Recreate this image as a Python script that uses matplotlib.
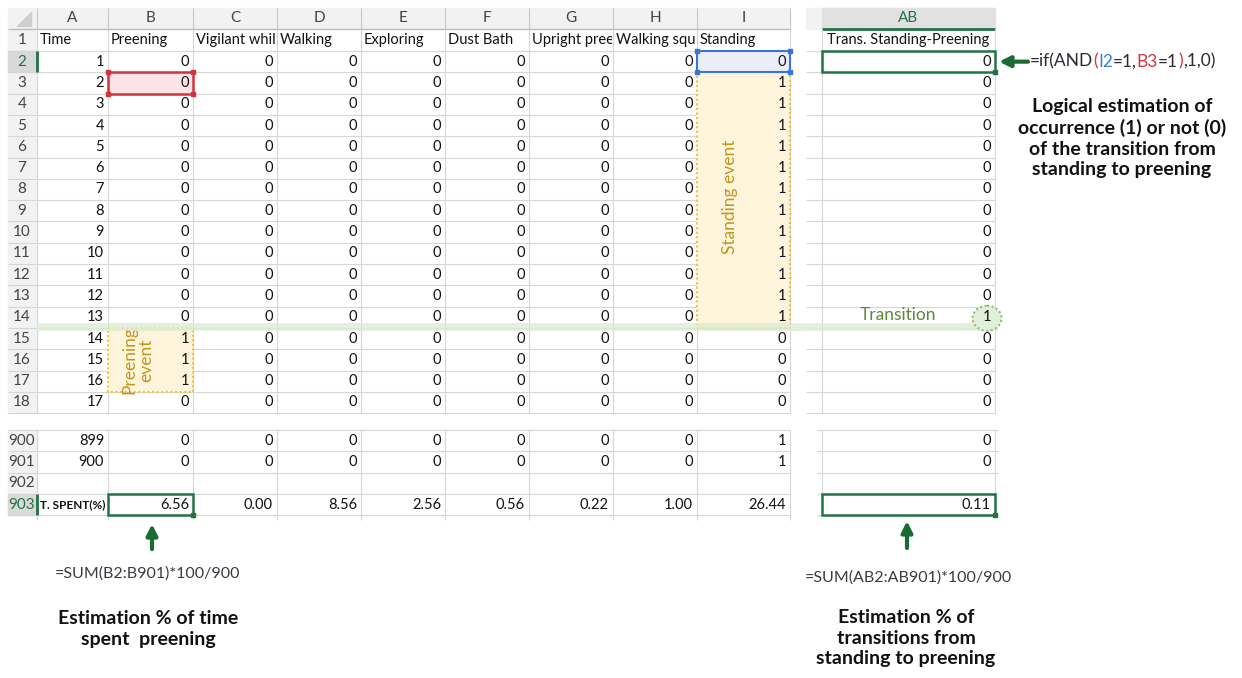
"""
Spreadsheet view: estimating time spent preening and standing->preening transitions.
"""

import matplotlib.pyplot as plt
from matplotlib.patches import Rectangle, Ellipse, Polygon
from matplotlib.transforms import Bbox

plt.rcParams['font.family'] = ['Lato', 'DejaVu Sans']

# ---- data -------------------------------------------------------------
col_letters = ["A", "B", "C", "D", "E", "F", "G", "H", "I"]
col_titles = ["Time", "Preening", "Vigilant whil", "Walking", "Exploring",
              "Dust Bath", "Upright pree", "Walking squa", "Standing"]

sheet_rows = [2, 3, 4, 5, 6, 7, 8, 9, 10, 11, 12, 13, 14, 15, 16, 17, 18, 900, 901]
time_s = [1, 2, 3, 4, 5, 6, 7, 8, 9, 10, 11, 12, 13, 14, 15, 16, 17, 899, 900]
preening = [0, 0, 0, 0, 0, 0, 0, 0, 0, 0, 0, 0, 0, 1, 1, 1, 0, 0, 0]
vigilant = [0, 0, 0, 0, 0, 0, 0, 0, 0, 0, 0, 0, 0, 0, 0, 0, 0, 0, 0]
walking = [0, 0, 0, 0, 0, 0, 0, 0, 0, 0, 0, 0, 0, 0, 0, 0, 0, 0, 0]
exploring = [0, 0, 0, 0, 0, 0, 0, 0, 0, 0, 0, 0, 0, 0, 0, 0, 0, 0, 0]
dust_bath = [0, 0, 0, 0, 0, 0, 0, 0, 0, 0, 0, 0, 0, 0, 0, 0, 0, 0, 0]
upright_preen = [0, 0, 0, 0, 0, 0, 0, 0, 0, 0, 0, 0, 0, 0, 0, 0, 0, 0, 0]
walking_squat = [0, 0, 0, 0, 0, 0, 0, 0, 0, 0, 0, 0, 0, 0, 0, 0, 0, 0, 0]
standing = [0, 1, 1, 1, 1, 1, 1, 1, 1, 1, 1, 1, 1, 0, 0, 0, 0, 1, 1]
trans_stand_preen = [0, 0, 0, 0, 0, 0, 0, 0, 0, 0, 0, 0, 1, 0, 0, 0, 0, 0, 0]

pct_spent = [6.56, 0.00, 8.56, 2.56, 0.56, 0.22, 1.00, 26.44]
pct_trans = 0.11

# ---- layout (pixels) --------------------------------------------------
W, H = 1242, 678
col_edges = [37, 108, 193, 277, 361, 445, 529, 613, 697, 790]
rn_left = 8
ab_left, ab_right = 822, 995
rh = 21.3

GRID = "#d6d6d6"
HDR_BG = "#f2f2f2"
HDR_TXT = "#444444"
GREEN = "#217346"
ARROW_GREEN = "#1b6b33"
YELLOW_FILL = "#fff5dd"
YELLOW_EDGE = "#f4c13e"
EVENT_TXT = "#c4951c"
CELL_FS = 10.5
NOTE_FS = 14


def row_top(r):
    if r == 0:
        return 8
    if r == 1:
        return 29
    if r <= 18:
        return 51 + (r - 2) * rh
    return 430 + (r - 900) * rh


def row_mid(r):
    if r == 0:
        return 18.5
    if r == 1:
        return 40
    return row_top(r) + rh / 2


fig = plt.figure(figsize=(W / 100, H / 100), dpi=100)
ax = fig.add_axes([0, 0, 1, 1])
ax.set_xlim(0, W)
ax.set_ylim(H, 0)
ax.axis("off")


def hline(x0, x1, y, color=GRID, lw=0.8, z=1):
    ax.plot([x0, x1], [y, y], color=color, lw=lw, zorder=z, solid_capstyle="butt")


def vline(x, y0, y1, color=GRID, lw=0.8, z=1):
    ax.plot([x, x], [y0, y1], color=color, lw=lw, zorder=z, solid_capstyle="butt")


def handles(x0, y0, x1, y1, color, corners):
    s = 4
    pts = {"tl": (x0, y0), "tr": (x1, y0), "bl": (x0, y1), "br": (x1, y1)}
    for c in corners:
        px, py = pts[c]
        ax.add_patch(Rectangle((px - s / 2, py - s / 2), s, s, color=color, zorder=8))


def display_box(x0, y0, x1, y1):
    (a, b), (c, d) = ax.transData.transform([(x0, y0), (x1, y1)])
    return Bbox.from_extents(min(a, c), min(b, d), max(a, c), max(b, d))


# ---- left block: headers ----------------------------------------------
top_rows = sheet_rows[:17]
bot_rows = [900, 901, 902, 903]

ax.add_patch(Rectangle((rn_left, 8), col_edges[-1] - rn_left, 21, color=HDR_BG, zorder=0))
ax.add_patch(Polygon([(31, 12), (31, 26), (17, 26)], color="#cfcfcf", zorder=2))
hline(rn_left, col_edges[-1], 29, color="#bdbdbd", lw=1)
for i, letter in enumerate(col_letters):
    xc = (col_edges[i] + col_edges[i + 1]) / 2
    ax.text(xc, 18.5, letter, ha="center", va="center", fontsize=11, color=HDR_TXT, zorder=3)
    vline(col_edges[i + 1], 8, 29, color="#c8c8c8")
vline(col_edges[0], 8, 29, color="#c8c8c8")

# row number column backgrounds
for block in (top_rows + [1], bot_rows):
    y0 = row_top(min(block))
    y1 = row_top(max(block)) + (22 if max(block) == 1 else rh)
    ax.add_patch(Rectangle((rn_left, y0), col_edges[0] - rn_left, y1 - y0, color=HDR_BG, zorder=0))

for r in [1] + top_rows + bot_rows:
    active = r in (2, 903)
    if active:
        ax.add_patch(Rectangle((rn_left, row_top(r)), col_edges[0] - rn_left, rh,
                               color="#d9d9d9", zorder=1))
        vline(col_edges[0], row_top(r), row_top(r) + rh, color=GREEN, lw=2, z=4)
    ax.text(22, row_mid(r), str(r), ha="center", va="center", fontsize=11,
            color=GREEN if active else HDR_TXT, zorder=3)

# grid lines
y_top1, y_bot1 = 29, row_top(18) + rh
y_top2, y_bot2 = row_top(900), row_top(903) + rh
for y in [51] + [row_top(r) + rh for r in top_rows]:
    hline(rn_left, col_edges[-1], y)
for r in bot_rows:
    hline(rn_left, col_edges[-1], row_top(r))
hline(rn_left, col_edges[-1], y_bot2)
for x in col_edges:
    vline(x, y_top1, y_bot1)
    vline(x, y_top2, y_bot2 + 5)

# highlighted regions
ax.add_patch(Rectangle((col_edges[8], row_top(3)), col_edges[9] - col_edges[8],
                       row_top(15) - row_top(3), facecolor=YELLOW_FILL,
                       edgecolor=YELLOW_EDGE, lw=1.5, ls=(0, (1, 1.2)), zorder=2))
ax.text((col_edges[8] + col_edges[9]) / 2 - 14, (row_top(3) + row_top(15)) / 2 - 3,
        "Standing event", rotation=90, ha="center", va="center", fontsize=12.5,
        color=EVENT_TXT, zorder=3)

ax.add_patch(Rectangle((col_edges[1], row_top(15)), col_edges[2] - col_edges[1],
                       row_top(18) - row_top(15), facecolor=YELLOW_FILL,
                       edgecolor=YELLOW_EDGE, lw=1.5, ls=(0, (1, 1.2)), zorder=2))
ax.text(col_edges[1] + 30, (row_top(15) + row_top(18)) / 2, "Preening\nevent",
        rotation=90, ha="center", va="center", fontsize=12.5, color=EVENT_TXT,
        linespacing=1.1, zorder=3)

# B3 (red) and I2 (blue) selections
bx0, bx1 = col_edges[1], col_edges[2]
ax.add_patch(Rectangle((bx0, row_top(3)), bx1 - bx0, rh, facecolor="#fce4e6",
                       edgecolor="#d0343f", lw=1.8, zorder=6))
handles(bx0, row_top(3), bx1, row_top(3) + rh, "#d0343f", ["tl", "tr", "bl", "br"])
ix0, ix1 = col_edges[8], col_edges[9]
ax.add_patch(Rectangle((ix0, row_top(2)), ix1 - ix0, rh, facecolor="#e9eef9",
                       edgecolor="#3b74d4", lw=1.5, zorder=6))
handles(ix0, row_top(2), ix1, row_top(2) + rh, "#3b74d4", ["tl", "tr", "bl", "br"])

# row 14/15 transition band
ax.add_patch(Rectangle((col_edges[0], row_top(15) - 5), ab_right + 3 - col_edges[0], 8,
                       color="#dcebd2", alpha=0.75, zorder=5, lw=0))

# cell values
columns = [time_s, preening, vigilant, walking, exploring, dust_bath,
           upright_preen, walking_squat, standing]
for i, title in enumerate(col_titles):
    t = ax.text(col_edges[i] + 3, 40, title, ha="left", va="center",
                fontsize=CELL_FS, color="#111111", zorder=7)
    t.set_clip_box(display_box(col_edges[i], 29, col_edges[i + 1] - 1, 51))
    t.set_clip_on(True)
    for r, v in zip(sheet_rows, columns[i]):
        ax.text(col_edges[i + 1] - 4, row_mid(r), str(v), ha="right", va="center",
                fontsize=CELL_FS, color="#111111", zorder=7)

ax.text(col_edges[0] + 3, row_mid(903), "T. SPENT(%)", ha="left", va="center",
        fontsize=8.5, fontweight="bold", color="#111111", zorder=7)
for i, v in enumerate(pct_spent):
    ax.text(col_edges[i + 2] - 4, row_mid(903), f"{v:.2f}", ha="right", va="center",
            fontsize=CELL_FS, color="#111111", zorder=7)
ax.add_patch(Rectangle((bx0, row_top(903)), bx1 - bx0, rh, fill=False,
                       edgecolor=GREEN, lw=1.8, zorder=6))
handles(bx0, row_top(903), bx1, row_top(903) + rh, GREEN, ["br"])

# ---- right block (column AB) -------------------------------------------
ax.add_patch(Rectangle((806, 8), ab_right - 806, 21, color=HDR_BG, zorder=0))
ax.add_patch(Rectangle((ab_left, 8), ab_right - ab_left, 21, color="#e1e1e1", zorder=0))
hline(ab_left, ab_right, 29, color=GREEN, lw=2)
ax.text((ab_left + ab_right) / 2, 18.5, "AB", ha="center", va="center",
        fontsize=11, color=GREEN)
ax.text(ab_left + 5, 40, "Trans. Standing-Preening", ha="left", va="center",
        fontsize=CELL_FS, color="#111111", zorder=7)
for y in [51] + [row_top(r) + rh for r in top_rows]:
    hline(806, ab_right, y)
vline(ab_left, 29, y_bot1)
vline(ab_right, 29, y_bot1)
for r in bot_rows:
    hline(817, ab_right + 3, row_top(r))
hline(817, ab_right + 3, y_bot2)
vline(ab_left, y_top2, y_bot2)
vline(ab_right, y_top2, y_bot2)

for r, v in zip(sheet_rows, trans_stand_preen):
    ax.text(ab_right - 4, row_mid(r), str(v), ha="right", va="center",
            fontsize=CELL_FS, color="#111111", zorder=7)
    if v == 1:
        ax.add_patch(Ellipse((ab_right - 8, row_mid(r) + 1), 29, 25, facecolor="#e2efda",
                             edgecolor="#8fbf6a", lw=1.5, ls=(0, (1, 1.2)), zorder=6))
        ax.text(898, row_mid(r) - 2, "Transition", ha="center", va="center",
                fontsize=12.5, color="#5a8a36", zorder=7)
ax.text(ab_right - 4, row_mid(903), f"{pct_trans:.2f}", ha="right", va="center",
        fontsize=CELL_FS, color="#111111", zorder=7)

ax.add_patch(Rectangle((ab_left, row_top(2)), ab_right - ab_left, rh, fill=False,
                       edgecolor=GREEN, lw=1.8, zorder=6))
handles(ab_left, row_top(2), ab_right, row_top(2) + rh, GREEN, ["br"])
ax.add_patch(Rectangle((ab_left, row_top(903)), ab_right - ab_left, rh, fill=False,
                       edgecolor=GREEN, lw=1.8, zorder=6))
handles(ab_left, row_top(903), ab_right, row_top(903) + rh, GREEN, ["br"])

# ---- annotations --------------------------------------------------------
arrow = dict(arrowstyle="-|>", color=ARROW_GREEN, lw=3, mutation_scale=16,
             shrinkA=0, shrinkB=0)
ax.annotate("", xy=(999, row_mid(2)), xytext=(1028, row_mid(2)), arrowprops=arrow)
ax.annotate("", xy=(152, 524), xytext=(152, 549), arrowprops=arrow)
ax.annotate("", xy=(907, 521), xytext=(907, 548), arrowprops=arrow)

# coloured formula: each piece is right-aligned at the width of the prefix
pieces = [("=if(AND", "#2b2b33"), ("(", "#d0343f"), ("I2", "#3b7fd6"),
          ("=1,", "#2b2b33"), ("B3", "#d0343f"), ("=1", "#2b2b33"),
          (")", "#d0343f"), (",1,0)", "#2b2b33")]
fig.canvas.draw()
renderer = fig.canvas.get_renderer()
inv = ax.transData.inverted()
x_start, prefix = 1030, ""
for s, c in pieces:
    prefix += s
    probe = ax.text(x_start, 0, prefix, ha="left", va="baseline", fontsize=12.5)
    bb = probe.get_window_extent(renderer)
    probe.remove()
    width = inv.transform((bb.x1, 0))[0] - inv.transform((bb.x0, 0))[0]
    ax.text(x_start + width, row_mid(2) + 5, s, ha="right", va="baseline",
            fontsize=12.5, color=c)

ax.text(1122, 138, "Logical estimation of\noccurrence (1) or not (0)\nof the transition from\nstanding to preening",
        ha="center", va="center", fontsize=NOTE_FS, fontweight="bold", color="#111111",
        linespacing=1.26)

ax.text(55, 574, "=SUM(B2:B901)*100/900", ha="left", va="center", fontsize=11.5,
        color="#3a3a44")
ax.text(148, 629, "Estimation % of time\nspent  preening", ha="center", va="center",
        fontsize=NOTE_FS, fontweight="bold", color="#111111", linespacing=1.26)

ax.text(805, 578, "=SUM(AB2:AB901)*100/900", ha="left", va="center", fontsize=11.5,
        color="#3a3a44")
ax.text(906, 638, "Estimation % of\ntransitions from\nstanding to preening", ha="center",
        va="center", fontsize=NOTE_FS, fontweight="bold", color="#111111", linespacing=1.26)

fig.savefig("out.png", dpi=100)
